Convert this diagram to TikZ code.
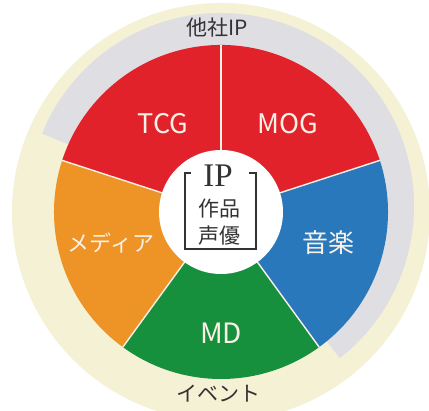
\documentclass[tikz,border=0pt]{standalone}
\usepackage{fontspec}
\newfontfamily\jp{Noto Sans CJK JP}
\newfontfamily\ipserif{Liberation Serif}
\definecolor{segred}{HTML}{E1222B}
\definecolor{segorange}{HTML}{EE9325}
\definecolor{segblue}{HTML}{2A78BC}
\definecolor{seggreen}{HTML}{17903E}
\definecolor{creambg}{HTML}{F4F1D5}
\definecolor{grayband}{HTML}{DFDEE3}
\definecolor{darktext}{HTML}{333333}
\definecolor{lighttext}{HTML}{FBF1E6}
\tikzset{
  seglabel/.style={font=\jp\fontsize{#1}{#1}\selectfont, text=lighttext, inner sep=0pt},
  outlabel/.style={font=\jp\fontsize{21}{21}\selectfont, text=darktext, inner sep=0pt},
  sepline/.style={draw=lighttext, line width=1.4pt},
  boxline/.style={draw=darktext, line width=1.3pt}
}
\begin{document}
\begin{tikzpicture}[x=1pt,y=1pt]
\useasboundingbox (0,0) rectangle (429,411);
\clip (0,0) rectangle (429,411);
\fill[white] (0,0) rectangle (429,411);
\coordinate (C) at (221,199);
\coordinate (G) at (221,205);
% cream outer circle
\fill[creambg] (C) circle[radius=209];
% gray band
\fill[grayband] (G) -- ++(-52:193) arc[start angle=-52, end angle=158, radius=193] -- cycle;
% pie segments
\fill[segred] (C) -- ++(18:167) arc[start angle=18, end angle=162, radius=167] -- cycle;
\fill[segorange] (C) -- ++(162:167) arc[start angle=162, end angle=234, radius=167] -- cycle;
\fill[seggreen] (C) -- ++(234:167) arc[start angle=234, end angle=306, radius=167] -- cycle;
\fill[segblue] (C) -- ++(306:167) arc[start angle=306, end angle=378, radius=167] -- cycle;
% separators
\foreach \a in {18,90,162,234,306} {
  \draw[sepline] (C) -- ++(\a:167);
}
% center circle
\fill[white] (C) circle[radius=62];
% bracket box
\coordinate (b1) at (191,238);
\coordinate (b2) at (185,238);
\coordinate (b3) at (185,162);
\coordinate (b4) at (256,162);
\coordinate (b5) at (256,238);
\coordinate (b6) at (249,238);
\draw[boxline] (b1) -- (b2) -- (b3) -- (b4) -- (b5) -- (b6);
\node[font=\ipserif\fontsize{33}{33}\selectfont, text=darktext, inner sep=0pt] (ip) at (218,235) {IP};
\node[font=\jp\fontsize{21}{21}\selectfont, text=darktext, inner sep=0pt] (works) at (219,202) {作品};
\node[font=\jp\fontsize{21}{21}\selectfont, text=darktext, inner sep=0pt] (voice) at (219,175) {声優};
% labels
\node[seglabel=27] (tcg) at (163,287) {TCG};
\node[seglabel=27] (mog) at (288,287) {MOG};
\node[seglabel=26] (music) at (328,168) {音楽};
\node[seglabel=28] (md) at (221,78) {MD};
\node[seglabel=22] (media) at (111,168) {メディア};
\node[outlabel] (other) at (217,383) {他社IP};
\node[outlabel] (event) at (218,17) {イベント};
\end{tikzpicture}
\end{document}
